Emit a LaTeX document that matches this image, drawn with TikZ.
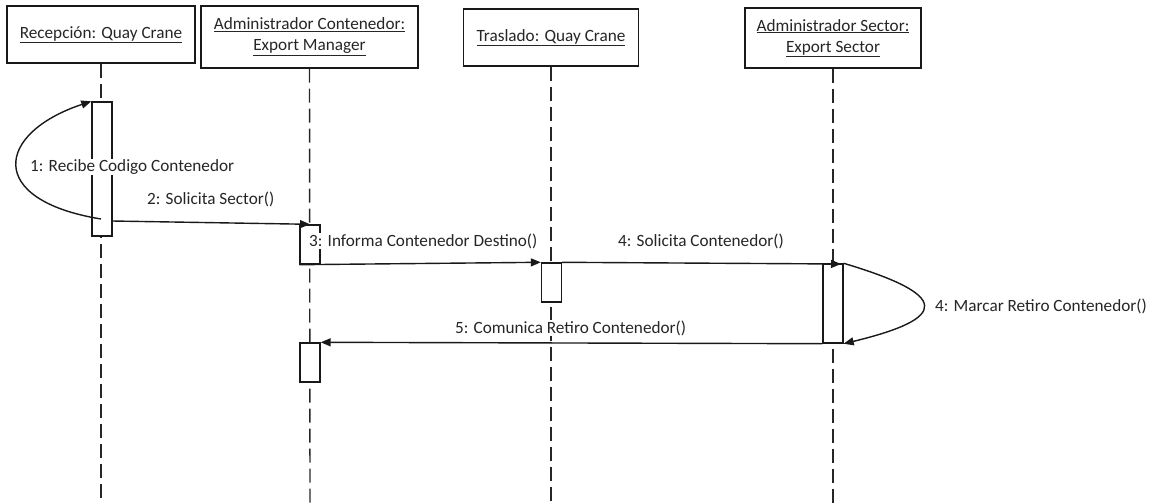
\documentclass[tikz,border=0pt]{standalone}
\usepackage{fontspec}
\setmainfont{Carlito}
\usetikzlibrary{arrows.meta}
\begin{document}
\begin{tikzpicture}[x=1pt,y=-1pt,
  every node/.style={font=\fontsize{17.2}{21}\selectfont, text=black!85},
  obj/.style={draw=black!90, line width=1.4pt, fill=white, inner sep=0pt, align=center},
  act/.style={draw=black!90, line width=1.4pt, fill=white, inner sep=0pt, minimum width=20pt},
  life/.style={draw=black!85, line width=1.4pt, dash pattern=on 14pt off 6pt},
  msg/.style={draw=black!90, line width=1.4pt, -{Triangle[length=10pt,width=8pt]}},
  lbl/.style={fill=white, inner sep=1pt, anchor=west}
]
\useasboundingbox (0,0) rectangle (1153,503);

% participants
\node[obj, minimum width=188pt, minimum height=57pt] (p1) at (101,34.5)
  {\underline{Recepción: Quay Crane}};
\node[obj, minimum width=217pt, minimum height=62pt] (p2) at (309.5,37)
  {\underline{Administrador Contenedor:}\\\underline{Export Manager}};
\node[obj, minimum width=175pt, minimum height=57pt] (p3) at (551,37.5)
  {\underline{Traslado: Quay Crane}};
\node[obj, minimum width=176pt, minimum height=60pt] (p4) at (833,38)
  {\underline{Administrador Sector:}\\\underline{Export Sector}};

% lifeline ends
\coordinate (e1) at (101,503);
\coordinate (e2) at (310,503);
\coordinate (e3) at (551,503);
\coordinate (e4) at (833,503);

\draw[life] (p1.south) -- (e1);
\draw[life] (p2.south) -- (e2);
\draw[life] (p3.south) -- (e3);
\draw[life] (p4.south) -- (e4);

% activation bars
\node[act, minimum height=134pt] (a1) at (102,169) {};
\node[act, minimum height=39pt] (a2) at (310,244.5) {};
\node[act, minimum height=39pt] (a3) at (551.5,282.5) {};
\node[act, minimum height=79pt] (a4) at (833,303.5) {};
\node[act, minimum height=39pt] (a5) at (310,362.5) {};

% messages
\coordinate (m1s) at (101,219);
\coordinate (m2s) at (112,221);
\coordinate (m4e) at (841,264);

\draw[msg] (m1s) .. controls (-15,200) and (-4,133) .. (a1.north west);
\draw[msg] (m2s) -- (a2.north);
\draw[msg] (a2.south west) -- (a3.north west);
\draw[msg] (a3.north east) -- (m4e);
\draw[msg] (a4.north east) .. controls (950,295) and (950,318) .. (a4.south east);
\draw[msg] (a4.south west) -- (a5.north east);

% message labels
\node[lbl] (l1) at (29,167) {1: Recibe Codigo Contenedor};
\node[lbl] (l2) at (146,199) {2: Solicita Sector()};
\node[lbl] (l3) at (308,241) {3: Informa Contenedor Destino()};
\node[lbl] (l4) at (617,241) {4: Solicita Contenedor()};
\node[lbl] (l4b) at (934,306) {4: Marcar Retiro Contenedor()};
\node[lbl] (l5) at (454,328) {5: Comunica Retiro Contenedor()};
\end{tikzpicture}
\end{document}
